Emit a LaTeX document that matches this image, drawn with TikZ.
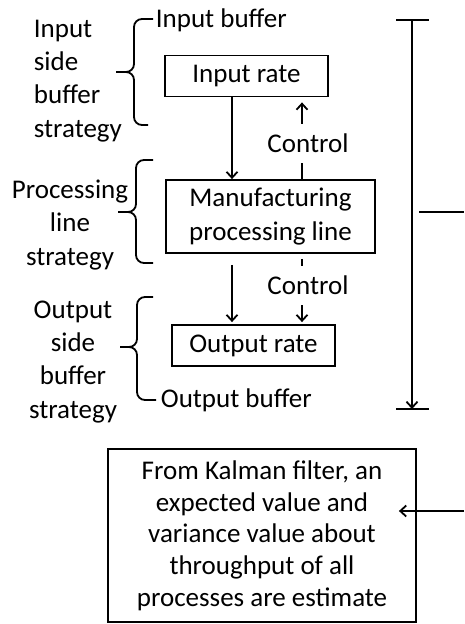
\documentclass[tikz,border=0pt]{standalone}
\usepackage{fontspec}
\setmainfont{Carlito}
\usetikzlibrary{arrows.meta, calc}

\begin{document}
\begin{tikzpicture}[x=1pt, y=-1pt, line width=1.8pt,
      font=\fontsize{27}{33.3}\selectfont,
      >={Straight Barb[length=6pt, width=11pt]},
      box/.style = {draw, inner sep=0pt, align=center},
      ctl/.style = {fill=white, inner xsep=1pt, inner ysep=10pt, xshift=6pt},
      lbl/.style = {inner sep=0pt},
      brc/.style = {rounded corners=8pt} ]
\useasboundingbox (0,0) rectangle (464,624);

% boxes
\node (inrate)  [box, minimum width=163, minimum height=41] at (246.5,76) {Input rate};
\node (manuf)   [box, minimum width=209, minimum height=73] at (270.5,216.5)
      {Manufacturing\\processing line};
\node (outrate) [box, minimum width=163, minimum height=41] at (253.5,345.5) {Output rate};
\node (kalman)  [box, minimum width=308, minimum height=173,
                 font=\fontsize{27}{31.7}\selectfont] at (262,535.5)
      {From Kalman filter, an\\expected value and\\variance value about\\throughput of all\\processes are estimate};

% labels on the left (base = last line)
\node (inbuf)  [lbl, anchor=base west] at (155,27) {Input buffer};
\node (outbuf) [lbl, anchor=base west] at (160,407) {Output buffer};
\node (instr)  [lbl, anchor=base west, align=left] at (33,137) {Input\\side\\buffer\\strategy};
\node (linestr) [lbl, anchor=base, align=center] at (70,265) {Processing\\line\\strategy};
\node (outstr) [lbl, anchor=base, align=center] at (73,418) {Output\\side\\buffer\\strategy};

% braces
\draw[brc] (153,19) -- (134,19) -- (134,72) -- (116,72);
\draw[brc] (116,72) -- (134,72) -- (134,125) -- (148,125);
\draw[brc] (153,160) -- (136,160) -- (136,212) -- (118,212);
\draw[brc] (118,212) -- (136,212) -- (136,263) -- (153,263);
\draw[brc] (153,297) -- (137,297) -- (137,347) -- (120,347);
\draw[brc] (120,347) -- (137,347) -- (137,400) -- (156,400);

% flow and control
\coordinate (flowx) at (232,0);
\coordinate (ctrlx) at (302,0);
\draw[->] (inrate.south -| flowx) -- (manuf.north -| flowx);
\draw[->, shorten >=5pt] (manuf.north -| ctrlx) -- node[ctl, pos=0.435] (ctlup) {Control} (inrate.south -| ctrlx);
\draw[->, shorten <=11pt, shorten >=2pt] (manuf.south -| flowx) -- (outrate.north -| flowx);
\draw[->, shorten <=5pt, shorten >=2pt] (manuf.south -| ctrlx) -- node[ctl, pos=0.444] (ctldown) {Control} (outrate.north -| ctrlx);

% span on the right
\coordinate (vtop) at (412,20);
\coordinate (vbot) at (412,409);
\draw[->] (vtop) -- (vbot);
\draw (vtop) +(-16,0) -- +(17,0);
\draw (vbot) +(-16,0) -- +(17,0);
\coordinate (brk)    at (419,212);
\coordinate (brkend) at (464,212);
\draw (brk) -- (brkend);
\coordinate (kin) at (464,511);
\draw[->] (kin) -- ($(kalman.east |- kin)+(-18,0)$);
\end{tikzpicture}
\end{document}
